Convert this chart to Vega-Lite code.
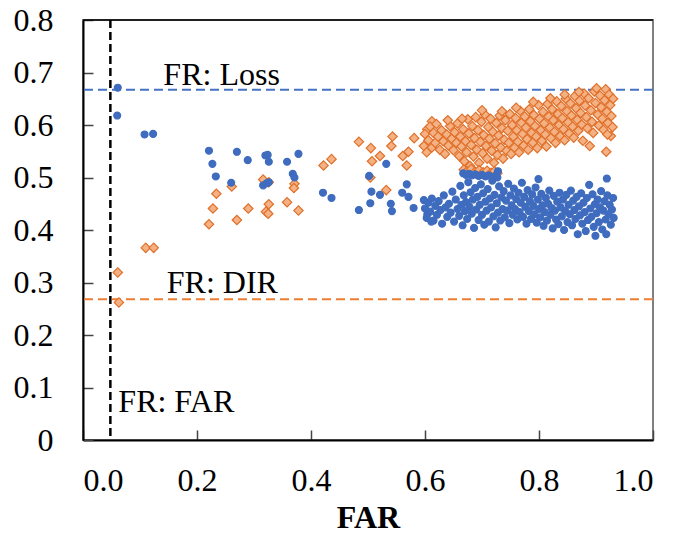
{
  "$schema": "https://vega.github.io/schema/vega-lite/v6.json",
  "width": 570,
  "height": 420,
  "autosize": "none",
  "padding": {"left": 83, "top": 20, "right": 20, "bottom": 96},
  "background": "white",
  "config": {
    "font": "Liberation Serif",
    "view": {"stroke": "#808080", "strokeWidth": 2},
    "axis": {"grid": false, "domainColor": "black", "domainWidth": 2, "tickColor": "#444", "tickWidth": 1.5, "labelFont": "Liberation Serif", "labelFontSize": 32, "labelColor": "black", "titleFont": "Liberation Serif", "titleColor": "black"},
    "legend": {"orient": "none", "legendX": 415, "legendY": 317, "strokeColor": "black", "strokeWidth": 1, "fillColor": "white", "padding": 8, "symbolOffset": 28, "labelFont": "Liberation Serif", "labelFontSize": 32, "labelColor": "black", "labelOffset": 11, "rowPadding": 9, "symbolSize": 50, "symbolStrokeWidth": 1}
  },
  "resolve": {"axis": {"x": "independent", "y": "independent"}},
  "datasets": {
    "pts": [
      {"series":"DIR","FAR":0.061,"value":0.319},{"series":"DIR","FAR":0.063,"value":0.262},{"series":"DIR","FAR":0.110,"value":0.366},{"series":"DIR","FAR":0.124,"value":0.366},
      {"series":"DIR","FAR":0.221,"value":0.411},{"series":"DIR","FAR":0.228,"value":0.441},{"series":"DIR","FAR":0.234,"value":0.469},{"series":"DIR","FAR":0.261,"value":0.483},{"series":"DIR","FAR":0.270,"value":0.419},{"series":"DIR","FAR":0.290,"value":0.441},{"series":"DIR","FAR":0.316,"value":0.496},{"series":"DIR","FAR":0.326,"value":0.491},{"series":"DIR","FAR":0.326,"value":0.449},{"series":"DIR","FAR":0.321,"value":0.435},{"series":"DIR","FAR":0.325,"value":0.431},{"series":"DIR","FAR":0.358,"value":0.453},{"series":"DIR","FAR":0.371,"value":0.488},{"series":"DIR","FAR":0.370,"value":0.480},{"series":"DIR","FAR":0.378,"value":0.437},{"series":"DIR","FAR":0.422,"value":0.523},{"series":"DIR","FAR":0.436,"value":0.535},{"series":"DIR","FAR":0.484,"value":0.568},
      {"series":"DIR","FAR":0.505,"value":0.556},{"series":"DIR","FAR":0.507,"value":0.531},{"series":"DIR","FAR":0.521,"value":0.541},{"series":"DIR","FAR":0.504,"value":0.500},{"series":"DIR","FAR":0.532,"value":0.476},{"series":"DIR","FAR":0.543,"value":0.578},{"series":"DIR","FAR":0.541,"value":0.560},{"series":"DIR","FAR":0.561,"value":0.541},{"series":"DIR","FAR":0.571,"value":0.549},{"series":"DIR","FAR":0.568,"value":0.523},{"series":"DIR","FAR":0.581,"value":0.575},{"series":"DIR","FAR":0.598,"value":0.560},{"series":"DIR","FAR":0.604,"value":0.592},{"series":"DIR","FAR":0.612,"value":0.607},
      {"series":"DIR","FAR":0.600,"value":0.583},{"series":"DIR","FAR":0.603,"value":0.548},{"series":"DIR","FAR":0.606,"value":0.571},{"series":"DIR","FAR":0.609,"value":0.597},{"series":"DIR","FAR":0.612,"value":0.557},{"series":"DIR","FAR":0.615,"value":0.585},{"series":"DIR","FAR":0.618,"value":0.566},{"series":"DIR","FAR":0.620,"value":0.602},{"series":"DIR","FAR":0.623,"value":0.578},{"series":"DIR","FAR":0.626,"value":0.553},{"series":"DIR","FAR":0.629,"value":0.590},{"series":"DIR","FAR":0.632,"value":0.569},{"series":"DIR","FAR":0.635,"value":0.545},{"series":"DIR","FAR":0.638,"value":0.582},{"series":"DIR","FAR":0.641,"value":0.561},{"series":"DIR","FAR":0.644,"value":0.598},{"series":"DIR","FAR":0.647,"value":0.574},{"series":"DIR","FAR":0.650,"value":0.552},{"series":"DIR","FAR":0.652,"value":0.586},{"series":"DIR","FAR":0.655,"value":0.566},{"series":"DIR","FAR":0.657,"value":0.603},{"series":"DIR","FAR":0.660,"value":0.541},{"series":"DIR","FAR":0.662,"value":0.578},{"series":"DIR","FAR":0.664,"value":0.559},{"series":"DIR","FAR":0.667,"value":0.592},{"series":"DIR","FAR":0.669,"value":0.531},{"series":"DIR","FAR":0.671,"value":0.569},{"series":"DIR","FAR":0.673,"value":0.548},{"series":"DIR","FAR":0.675,"value":0.611},{"series":"DIR","FAR":0.677,"value":0.584},{"series":"DIR","FAR":0.679,"value":0.522},{"series":"DIR","FAR":0.681,"value":0.562},{"series":"DIR","FAR":0.683,"value":0.598},{"series":"DIR","FAR":0.685,"value":0.540},{"series":"DIR","FAR":0.687,"value":0.575},{"series":"DIR","FAR":0.689,"value":0.615},{"series":"DIR","FAR":0.691,"value":0.553},{"series":"DIR","FAR":0.693,"value":0.590},{"series":"DIR","FAR":0.695,"value":0.528},{"series":"DIR","FAR":0.697,"value":0.568},{"series":"DIR","FAR":0.699,"value":0.606},{"series":"DIR","FAR":0.701,"value":0.546},{"series":"DIR","FAR":0.703,"value":0.581},{"series":"DIR","FAR":0.705,"value":0.620},{"series":"DIR","FAR":0.707,"value":0.560},{"series":"DIR","FAR":0.709,"value":0.536},{"series":"DIR","FAR":0.711,"value":0.596},{"series":"DIR","FAR":0.713,"value":0.574},{"series":"DIR","FAR":0.715,"value":0.612},{"series":"DIR","FAR":0.717,"value":0.551},{"series":"DIR","FAR":0.719,"value":0.587},{"series":"DIR","FAR":0.721,"value":0.528},{"series":"DIR","FAR":0.723,"value":0.565},{"series":"DIR","FAR":0.725,"value":0.604},{"series":"DIR","FAR":0.727,"value":0.543},{"series":"DIR","FAR":0.729,"value":0.580},{"series":"DIR","FAR":0.731,"value":0.618},{"series":"DIR","FAR":0.733,"value":0.557},{"series":"DIR","FAR":0.735,"value":0.594},{"series":"DIR","FAR":0.737,"value":0.536},{"series":"DIR","FAR":0.739,"value":0.572},{"series":"DIR","FAR":0.741,"value":0.609},{"series":"DIR","FAR":0.743,"value":0.551},{"series":"DIR","FAR":0.745,"value":0.589},{"series":"DIR","FAR":0.747,"value":0.566},{"series":"DIR","FAR":0.749,"value":0.621},{"series":"DIR","FAR":0.751,"value":0.545},{"series":"DIR","FAR":0.753,"value":0.600},{"series":"DIR","FAR":0.755,"value":0.578},{"series":"DIR","FAR":0.757,"value":0.557},{"series":"DIR","FAR":0.759,"value":0.613},{"series":"DIR","FAR":0.761,"value":0.590},{"series":"DIR","FAR":0.763,"value":0.568},{"series":"DIR","FAR":0.765,"value":0.548},{"series":"DIR","FAR":0.767,"value":0.627},{"series":"DIR","FAR":0.769,"value":0.604},{"series":"DIR","FAR":0.771,"value":0.583},{"series":"DIR","FAR":0.773,"value":0.561},{"series":"DIR","FAR":0.775,"value":0.616},{"series":"DIR","FAR":0.777,"value":0.595},{"series":"DIR","FAR":0.779,"value":0.573},{"series":"DIR","FAR":0.781,"value":0.553},{"series":"DIR","FAR":0.783,"value":0.630},{"series":"DIR","FAR":0.785,"value":0.607},{"series":"DIR","FAR":0.787,"value":0.585},{"series":"DIR","FAR":0.789,"value":0.566},{"series":"DIR","FAR":0.791,"value":0.619},{"series":"DIR","FAR":0.793,"value":0.598},{"series":"DIR","FAR":0.795,"value":0.578},{"series":"DIR","FAR":0.797,"value":0.556},{"series":"DIR","FAR":0.799,"value":0.638},{"series":"DIR","FAR":0.801,"value":0.612},{"series":"DIR","FAR":0.803,"value":0.590},{"series":"DIR","FAR":0.805,"value":0.570},{"series":"DIR","FAR":0.807,"value":0.625},{"series":"DIR","FAR":0.809,"value":0.603},{"series":"DIR","FAR":0.811,"value":0.582},{"series":"DIR","FAR":0.813,"value":0.559},{"series":"DIR","FAR":0.815,"value":0.640},{"series":"DIR","FAR":0.817,"value":0.616},{"series":"DIR","FAR":0.819,"value":0.595},{"series":"DIR","FAR":0.821,"value":0.575},{"series":"DIR","FAR":0.823,"value":0.630},{"series":"DIR","FAR":0.825,"value":0.609},{"series":"DIR","FAR":0.827,"value":0.587},{"series":"DIR","FAR":0.829,"value":0.566},{"series":"DIR","FAR":0.831,"value":0.645},{"series":"DIR","FAR":0.833,"value":0.621},{"series":"DIR","FAR":0.835,"value":0.600},{"series":"DIR","FAR":0.837,"value":0.579},{"series":"DIR","FAR":0.839,"value":0.636},{"series":"DIR","FAR":0.841,"value":0.613},{"series":"DIR","FAR":0.843,"value":0.592},{"series":"DIR","FAR":0.845,"value":0.571},{"series":"DIR","FAR":0.847,"value":0.650},{"series":"DIR","FAR":0.849,"value":0.626},{"series":"DIR","FAR":0.851,"value":0.605},{"series":"DIR","FAR":0.853,"value":0.584},{"series":"DIR","FAR":0.855,"value":0.641},{"series":"DIR","FAR":0.857,"value":0.618},{"series":"DIR","FAR":0.859,"value":0.597},{"series":"DIR","FAR":0.861,"value":0.576},{"series":"DIR","FAR":0.863,"value":0.655},{"series":"DIR","FAR":0.865,"value":0.632},{"series":"DIR","FAR":0.867,"value":0.610},{"series":"DIR","FAR":0.869,"value":0.589},{"series":"DIR","FAR":0.871,"value":0.646},{"series":"DIR","FAR":0.873,"value":0.623},{"series":"DIR","FAR":0.875,"value":0.601},{"series":"DIR","FAR":0.877,"value":0.570},{"series":"DIR","FAR":0.879,"value":0.660},{"series":"DIR","FAR":0.881,"value":0.637},{"series":"DIR","FAR":0.883,"value":0.615},{"series":"DIR","FAR":0.885,"value":0.594},{"series":"DIR","FAR":0.887,"value":0.651},{"series":"DIR","FAR":0.889,"value":0.560},{"series":"DIR","FAR":0.891,"value":0.628},{"series":"DIR","FAR":0.893,"value":0.606},{"series":"DIR","FAR":0.895,"value":0.585},{"series":"DIR","FAR":0.897,"value":0.664},{"series":"DIR","FAR":0.899,"value":0.642},{"series":"DIR","FAR":0.901,"value":0.670},{"series":"DIR","FAR":0.903,"value":0.620},{"series":"DIR","FAR":0.905,"value":0.599},{"series":"DIR","FAR":0.907,"value":0.656},{"series":"DIR","FAR":0.909,"value":0.634},{"series":"DIR","FAR":0.911,"value":0.612},{"series":"DIR","FAR":0.913,"value":0.591},{"series":"DIR","FAR":0.915,"value":0.647},{"series":"DIR","FAR":0.917,"value":0.668},{"series":"DIR","FAR":0.918,"value":0.549},{"series":"DIR","FAR":0.919,"value":0.625},{"series":"DIR","FAR":0.921,"value":0.604},{"series":"DIR","FAR":0.923,"value":0.658},{"series":"DIR","FAR":0.925,"value":0.638},{"series":"DIR","FAR":0.927,"value":0.617},{"series":"DIR","FAR":0.929,"value":0.596},{"series":"DIR","FAR":0.930,"value":0.650},{"series":"DIR","FAR":0.926,"value":0.579},{"series":"DIR","FAR":0.920,"value":0.582},
      {"series":"DIR","FAR":0.668,"value":0.515},{"series":"DIR","FAR":0.674,"value":0.512},{"series":"DIR","FAR":0.681,"value":0.516},{"series":"DIR","FAR":0.688,"value":0.511},{"series":"DIR","FAR":0.695,"value":0.514},{"series":"DIR","FAR":0.702,"value":0.510},{"series":"DIR","FAR":0.709,"value":0.513},{"series":"DIR","FAR":0.716,"value":0.509},{"series":"DIR","FAR":0.722,"value":0.512},{"series":"DIR","FAR":0.727,"value":0.508},
      {"series":"DIR","FAR":0.640,"value":0.609},{"series":"DIR","FAR":0.665,"value":0.612},{"series":"DIR","FAR":0.700,"value":0.628},{"series":"DIR","FAR":0.735,"value":0.626},{"series":"DIR","FAR":0.760,"value":0.633},{"series":"DIR","FAR":0.790,"value":0.644},{"series":"DIR","FAR":0.820,"value":0.651},{"series":"DIR","FAR":0.845,"value":0.658},{"series":"DIR","FAR":0.870,"value":0.663},
      {"series":"Loss","FAR":0.061,"value":0.671},{"series":"Loss","FAR":0.060,"value":0.618},{"series":"Loss","FAR":0.108,"value":0.582},{"series":"Loss","FAR":0.123,"value":0.583},{"series":"Loss","FAR":0.221,"value":0.551},{"series":"Loss","FAR":0.227,"value":0.526},{"series":"Loss","FAR":0.233,"value":0.502},{"series":"Loss","FAR":0.260,"value":0.490},{"series":"Loss","FAR":0.270,"value":0.549},{"series":"Loss","FAR":0.289,"value":0.533},{"series":"Loss","FAR":0.320,"value":0.542},{"series":"Loss","FAR":0.324,"value":0.543},{"series":"Loss","FAR":0.326,"value":0.530},{"series":"Loss","FAR":0.316,"value":0.485},{"series":"Loss","FAR":0.322,"value":0.489},{"series":"Loss","FAR":0.326,"value":0.491},{"series":"Loss","FAR":0.358,"value":0.530},{"series":"Loss","FAR":0.378,"value":0.545},{"series":"Loss","FAR":0.368,"value":0.507},{"series":"Loss","FAR":0.371,"value":0.500},{"series":"Loss","FAR":0.421,"value":0.471},{"series":"Loss","FAR":0.436,"value":0.461},{"series":"Loss","FAR":0.484,"value":0.438},
      {"series":"Loss","FAR":0.504,"value":0.451},{"series":"Loss","FAR":0.506,"value":0.473},{"series":"Loss","FAR":0.502,"value":0.503},{"series":"Loss","FAR":0.521,"value":0.467},{"series":"Loss","FAR":0.532,"value":0.526},{"series":"Loss","FAR":0.540,"value":0.450},{"series":"Loss","FAR":0.542,"value":0.436},{"series":"Loss","FAR":0.560,"value":0.471},{"series":"Loss","FAR":0.571,"value":0.463},{"series":"Loss","FAR":0.568,"value":0.487},{"series":"Loss","FAR":0.580,"value":0.442},{"series":"Loss","FAR":0.598,"value":0.457},{"series":"Loss","FAR":0.604,"value":0.430},{"series":"Loss","FAR":0.611,"value":0.416},
      {"series":"Loss","FAR":0.600,"value":0.441},{"series":"Loss","FAR":0.603,"value":0.423},{"series":"Loss","FAR":0.606,"value":0.452},{"series":"Loss","FAR":0.609,"value":0.435},{"series":"Loss","FAR":0.612,"value":0.460},{"series":"Loss","FAR":0.615,"value":0.418},{"series":"Loss","FAR":0.618,"value":0.446},{"series":"Loss","FAR":0.621,"value":0.429},{"series":"Loss","FAR":0.624,"value":0.455},{"series":"Loss","FAR":0.627,"value":0.438},{"series":"Loss","FAR":0.630,"value":0.412},{"series":"Loss","FAR":0.633,"value":0.466},{"series":"Loss","FAR":0.636,"value":0.443},{"series":"Loss","FAR":0.639,"value":0.425},{"series":"Loss","FAR":0.642,"value":0.450},{"series":"Loss","FAR":0.645,"value":0.433},{"series":"Loss","FAR":0.648,"value":0.473},{"series":"Loss","FAR":0.651,"value":0.416},{"series":"Loss","FAR":0.654,"value":0.458},{"series":"Loss","FAR":0.657,"value":0.440},{"series":"Loss","FAR":0.660,"value":0.427},{"series":"Loss","FAR":0.662,"value":0.484},{"series":"Loss","FAR":0.664,"value":0.448},{"series":"Loss","FAR":0.666,"value":0.409},{"series":"Loss","FAR":0.668,"value":0.466},{"series":"Loss","FAR":0.670,"value":0.436},{"series":"Loss","FAR":0.672,"value":0.453},{"series":"Loss","FAR":0.674,"value":0.421},{"series":"Loss","FAR":0.676,"value":0.491},{"series":"Loss","FAR":0.678,"value":0.444},{"series":"Loss","FAR":0.680,"value":0.472},{"series":"Loss","FAR":0.682,"value":0.431},{"series":"Loss","FAR":0.684,"value":0.458},{"series":"Loss","FAR":0.686,"value":0.404},{"series":"Loss","FAR":0.688,"value":0.480},{"series":"Loss","FAR":0.690,"value":0.439},{"series":"Loss","FAR":0.692,"value":0.463},{"series":"Loss","FAR":0.694,"value":0.419},{"series":"Loss","FAR":0.696,"value":0.448},{"series":"Loss","FAR":0.698,"value":0.487},{"series":"Loss","FAR":0.700,"value":0.429},{"series":"Loss","FAR":0.702,"value":0.470},{"series":"Loss","FAR":0.704,"value":0.410},{"series":"Loss","FAR":0.706,"value":0.454},{"series":"Loss","FAR":0.708,"value":0.437},{"series":"Loss","FAR":0.710,"value":0.478},{"series":"Loss","FAR":0.712,"value":0.416},{"series":"Loss","FAR":0.714,"value":0.460},{"series":"Loss","FAR":0.716,"value":0.443},{"series":"Loss","FAR":0.718,"value":0.494},{"series":"Loss","FAR":0.720,"value":0.426},{"series":"Loss","FAR":0.722,"value":0.467},{"series":"Loss","FAR":0.724,"value":0.405},{"series":"Loss","FAR":0.726,"value":0.451},{"series":"Loss","FAR":0.728,"value":0.433},{"series":"Loss","FAR":0.730,"value":0.483},{"series":"Loss","FAR":0.732,"value":0.418},{"series":"Loss","FAR":0.734,"value":0.462},{"series":"Loss","FAR":0.736,"value":0.440},{"series":"Loss","FAR":0.738,"value":0.474},{"series":"Loss","FAR":0.740,"value":0.424},{"series":"Loss","FAR":0.742,"value":0.456},{"series":"Loss","FAR":0.744,"value":0.437},{"series":"Loss","FAR":0.746,"value":0.488},{"series":"Loss","FAR":0.748,"value":0.413},{"series":"Loss","FAR":0.750,"value":0.466},{"series":"Loss","FAR":0.752,"value":0.447},{"series":"Loss","FAR":0.754,"value":0.429},{"series":"Loss","FAR":0.756,"value":0.479},{"series":"Loss","FAR":0.758,"value":0.440},{"series":"Loss","FAR":0.760,"value":0.459},{"series":"Loss","FAR":0.762,"value":0.420},{"series":"Loss","FAR":0.764,"value":0.471},{"series":"Loss","FAR":0.766,"value":0.434},{"series":"Loss","FAR":0.768,"value":0.452},{"series":"Loss","FAR":0.770,"value":0.490},{"series":"Loss","FAR":0.772,"value":0.425},{"series":"Loss","FAR":0.774,"value":0.463},{"series":"Loss","FAR":0.776,"value":0.444},{"series":"Loss","FAR":0.778,"value":0.412},{"series":"Loss","FAR":0.780,"value":0.476},{"series":"Loss","FAR":0.782,"value":0.436},{"series":"Loss","FAR":0.784,"value":0.455},{"series":"Loss","FAR":0.786,"value":0.421},{"series":"Loss","FAR":0.788,"value":0.468},{"series":"Loss","FAR":0.790,"value":0.446},{"series":"Loss","FAR":0.792,"value":0.430},{"series":"Loss","FAR":0.794,"value":0.481},{"series":"Loss","FAR":0.796,"value":0.414},{"series":"Loss","FAR":0.798,"value":0.458},{"series":"Loss","FAR":0.799,"value":0.497},{"series":"Loss","FAR":0.800,"value":0.440},{"series":"Loss","FAR":0.802,"value":0.424},{"series":"Loss","FAR":0.804,"value":0.469},{"series":"Loss","FAR":0.806,"value":0.447},{"series":"Loss","FAR":0.808,"value":0.408},{"series":"Loss","FAR":0.810,"value":0.434},{"series":"Loss","FAR":0.812,"value":0.461},{"series":"Loss","FAR":0.814,"value":0.418},{"series":"Loss","FAR":0.816,"value":0.450},{"series":"Loss","FAR":0.818,"value":0.475},{"series":"Loss","FAR":0.820,"value":0.429},{"series":"Loss","FAR":0.822,"value":0.442},{"series":"Loss","FAR":0.824,"value":0.403},{"series":"Loss","FAR":0.826,"value":0.465},{"series":"Loss","FAR":0.828,"value":0.437},{"series":"Loss","FAR":0.830,"value":0.420},{"series":"Loss","FAR":0.832,"value":0.454},{"series":"Loss","FAR":0.834,"value":0.411},{"series":"Loss","FAR":0.836,"value":0.471},{"series":"Loss","FAR":0.838,"value":0.443},{"series":"Loss","FAR":0.840,"value":0.426},{"series":"Loss","FAR":0.842,"value":0.458},{"series":"Loss","FAR":0.844,"value":0.400},{"series":"Loss","FAR":0.846,"value":0.436},{"series":"Loss","FAR":0.848,"value":0.467},{"series":"Loss","FAR":0.850,"value":0.415},{"series":"Loss","FAR":0.852,"value":0.448},{"series":"Loss","FAR":0.854,"value":0.430},{"series":"Loss","FAR":0.856,"value":0.475},{"series":"Loss","FAR":0.858,"value":0.409},{"series":"Loss","FAR":0.860,"value":0.456},{"series":"Loss","FAR":0.862,"value":0.438},{"series":"Loss","FAR":0.864,"value":0.421},{"series":"Loss","FAR":0.866,"value":0.463},{"series":"Loss","FAR":0.868,"value":0.392},{"series":"Loss","FAR":0.870,"value":0.445},{"series":"Loss","FAR":0.872,"value":0.428},{"series":"Loss","FAR":0.874,"value":0.470},{"series":"Loss","FAR":0.876,"value":0.412},{"series":"Loss","FAR":0.878,"value":0.452},{"series":"Loss","FAR":0.880,"value":0.434},{"series":"Loss","FAR":0.882,"value":0.398},{"series":"Loss","FAR":0.884,"value":0.461},{"series":"Loss","FAR":0.886,"value":0.419},{"series":"Loss","FAR":0.888,"value":0.486},{"series":"Loss","FAR":0.890,"value":0.441},{"series":"Loss","FAR":0.892,"value":0.425},{"series":"Loss","FAR":0.894,"value":0.468},{"series":"Loss","FAR":0.896,"value":0.406},{"series":"Loss","FAR":0.898,"value":0.449},{"series":"Loss","FAR":0.899,"value":0.389},{"series":"Loss","FAR":0.901,"value":0.432},{"series":"Loss","FAR":0.903,"value":0.458},{"series":"Loss","FAR":0.905,"value":0.415},{"series":"Loss","FAR":0.907,"value":0.443},{"series":"Loss","FAR":0.909,"value":0.474},{"series":"Loss","FAR":0.911,"value":0.401},{"series":"Loss","FAR":0.913,"value":0.437},{"series":"Loss","FAR":0.915,"value":0.455},{"series":"Loss","FAR":0.917,"value":0.420},{"series":"Loss","FAR":0.918,"value":0.392},{"series":"Loss","FAR":0.919,"value":0.498},{"series":"Loss","FAR":0.920,"value":0.466},{"series":"Loss","FAR":0.922,"value":0.430},{"series":"Loss","FAR":0.924,"value":0.448},{"series":"Loss","FAR":0.926,"value":0.410},{"series":"Loss","FAR":0.928,"value":0.439},{"series":"Loss","FAR":0.930,"value":0.461},{"series":"Loss","FAR":0.931,"value":0.423},
      {"series":"Loss","FAR":0.667,"value":0.508},{"series":"Loss","FAR":0.672,"value":0.505},{"series":"Loss","FAR":0.677,"value":0.507},{"series":"Loss","FAR":0.682,"value":0.504},{"series":"Loss","FAR":0.688,"value":0.506},{"series":"Loss","FAR":0.694,"value":0.503},{"series":"Loss","FAR":0.700,"value":0.505},{"series":"Loss","FAR":0.706,"value":0.502},{"series":"Loss","FAR":0.712,"value":0.504},{"series":"Loss","FAR":0.718,"value":0.501},{"series":"Loss","FAR":0.724,"value":0.503},{"series":"Loss","FAR":0.728,"value":0.512},{"series":"Loss","FAR":0.727,"value":0.500}
    ],
    "labels": [
      {"label":"FR: Loss","FAR":0.141,"value":0.676},
      {"label":"FR: DIR","FAR":0.147,"value":0.280},
      {"label":"FR: FAR","FAR":0.062,"value":0.053}
    ],
    "one": [{}]
  },
  "layer": [
    {
      "data": {"name": "one"},
      "mark": {"type": "rule", "color": "black", "strokeWidth": 1.5},
      "encoding": {
        "y": {"datum": 0.8, "type": "quantitative", "scale": {"domain": [0, 0.8], "nice": false},
          "axis": {"orient": "left", "offset": -10, "tickSize": 10, "labels": false, "domain": false, "title": null, "values": [0, 0.1, 0.2, 0.3, 0.4, 0.5, 0.6, 0.7, 0.8]}}
      }
    },
    {
      "data": {"name": "one"},
      "mark": {"type": "rule", "color": "black", "strokeWidth": 2.5, "strokeDash": [8, 4]},
      "encoding": {
        "x": {"datum": 0.048, "type": "quantitative", "scale": {"domain": [0, 1], "nice": false},
          "axis": {"orient": "bottom", "offset": -10, "tickSize": 10, "labels": false, "domain": false, "title": null, "values": [0, 0.2, 0.4, 0.6, 0.8, 1.0]}}
      }
    },
    {"data": {"name": "one"}, "mark": {"type": "rule", "color": "#4472C4", "strokeWidth": 2, "strokeDash": [9, 5]}, "encoding": {"y": {"datum": 0.667, "type": "quantitative", "axis": null}}},
    {"data": {"name": "one"}, "mark": {"type": "rule", "color": "#ED7D31", "strokeWidth": 2, "strokeDash": [9, 5]}, "encoding": {"y": {"datum": 0.268, "type": "quantitative", "axis": null}}},
    {
      "data": {"name": "labels"},
      "mark": {"type": "text", "align": "left", "baseline": "alphabetic", "font": "Liberation Serif", "fontSize": 32, "color": "black"},
      "encoding": {
        "x": {"field": "FAR", "type": "quantitative", "axis": null},
        "y": {"field": "value", "type": "quantitative", "axis": null},
        "text": {"field": "label"}
      }
    },
    {
      "data": {"name": "pts"},
      "mark": {"type": "point", "filled": true, "strokeWidth": 1.2, "opacity": 1},
      "encoding": {
        "x": {"field": "FAR", "type": "quantitative",
          "axis": {"orient": "bottom", "title": "FAR", "titleFontSize": 32, "titleFontWeight": "bold", "titlePadding": 6, "values": [0, 0.2, 0.4, 0.6, 0.8, 1.0], "format": ".1f", "ticks": false, "labelPadding": 25}},
        "y": {"field": "value", "type": "quantitative",
          "axis": {"orient": "left", "title": null, "values": [0, 0.1, 0.2, 0.3, 0.4, 0.5, 0.6, 0.7, 0.8], "labelExpr": "datum.value == 0 ? '0' : format(datum.value, '.1f')", "ticks": false, "labelPadding": 30}},
        "size": {"field": "series", "type": "nominal", "scale": {"domain": ["DIR", "Loss"], "range": [88, 48]}, "legend": null},
        "shape": {"field": "series", "type": "nominal", "scale": {"domain": ["DIR", "Loss"], "range": ["diamond", "circle"]}, "legend": {"title": null}},
        "fill": {"field": "series", "type": "nominal", "scale": {"domain": ["DIR", "Loss"], "range": ["#F4B183", "#3F6CBE"]}, "legend": {"title": null}},
        "stroke": {"field": "series", "type": "nominal", "scale": {"domain": ["DIR", "Loss"], "range": ["#E0702A", "#3F6CBE"]}, "legend": {"title": null}}
      }
    }
  ]
}
